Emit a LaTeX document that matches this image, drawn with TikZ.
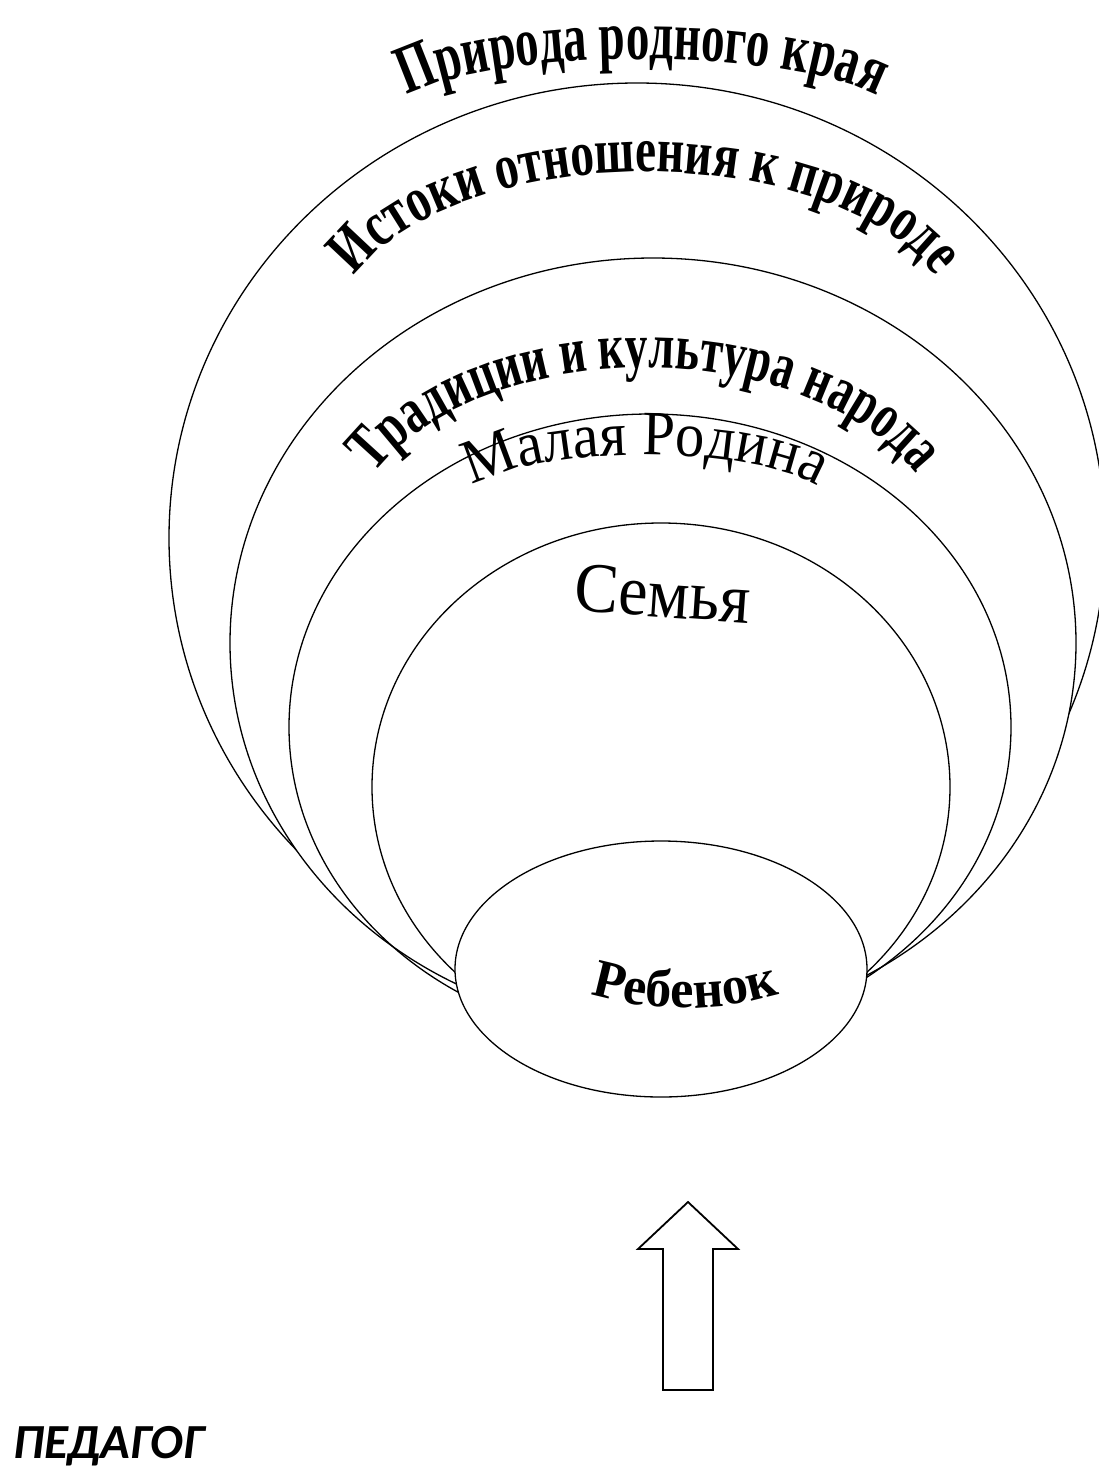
\documentclass[tikz,border=0pt]{standalone}
\usepackage{fontspec}
\usetikzlibrary{decorations.text}
\newfontfamily\fPriroda[FakeStretch=0.68]{Liberation Serif}
\newfontfamily\fIstoki[FakeStretch=0.74]{Liberation Serif}
\newfontfamily\fTrad[FakeStretch=0.70]{Liberation Serif}
\newfontfamily\fMalaya[FakeStretch=0.93]{Liberation Serif}
\newfontfamily\fSemya[FakeStretch=0.93]{Liberation Serif}
\newfontfamily\fReb[FakeStretch=0.97]{Liberation Serif}
\newfontfamily\fPed{Carlito}
\tikzset{
  ring/.style={line width=1.3pt, draw=black},
  blockarrow/.style={line width=1.8pt, draw=black, line join=miter},
}
\begin{document}
\begin{tikzpicture}[x=1pt, y=-1pt]
\useasboundingbox (0,0) rectangle (1099,1468);
\fill[white] (0,0) rectangle (1099,1468);

% outer ring (only outside ring 2)
\begin{scope}[even odd rule]
  \clip (0,0) rectangle (1099,1468) (653,643) ellipse [x radius=423, y radius=385];
  \draw[ring] (637,538) ellipse [x radius=468, y radius=455];
\end{scope}
% ring 2
\draw[ring] (653,643) ellipse [x radius=423, y radius=385];
% ring 3
\draw[ring] (650,727) ellipse [x radius=361, y radius=313];
% ring 4
\draw[ring] (661,787) ellipse [x radius=289, y radius=264];

% child ellipse
\draw[ring, fill=white] (661,969) ellipse [x radius=206, y radius=128];
\coordinate (child) at (661,969);

% arched texts
\path[decorate, decoration={text along path, text align=center,
  text={|\fPriroda\bfseries\fontsize{69}{69}\selectfont|Природа родного края}}]
  (642,119) ++(150:255 and 60) arc [start angle=150, end angle=390, x radius=255, y radius=60];

\path[decorate, decoration={text along path, text align=center,
  text={|\fIstoki\bfseries\fontsize{64}{64}\selectfont|Истоки отношения к природе}}]
  (645,332) ++(160:310 and 160) arc [start angle=160, end angle=380, x radius=310, y radius=160];

\path[decorate, decoration={text along path, text align=center,
  text={|\fTrad\bfseries\fontsize{65}{65}\selectfont|Традиции и культура народа}}]
  (645,553) ++(160:300 and 185) arc [start angle=160, end angle=380, x radius=300, y radius=185];

\path[decorate, decoration={text along path, text align=center,
  text={|\fMalaya\fontsize{63}{63}\selectfont|Малая Родина}}]
  (645,505) ++(150:185 and 50) arc [start angle=150, end angle=390, x radius=185, y radius=50];

\node[anchor=base, rotate=-4, inner sep=0pt, font=\fSemya\fontsize{71}{71}\selectfont] (semya) at (661,617) {Семья};

\path[decorate, decoration={text along path, text align=center,
  text={|\fReb\bfseries\fontsize{54}{54}\selectfont|Ребенок}}]
  (685,674) ++(120:334) arc [start angle=120, end angle=60, radius=334];

% block arrow
\draw[blockarrow] (688,1202) -- (738,1249) -- (713,1249) -- (713,1390) -- (663,1390) -- (663,1249) -- (638,1249) -- cycle;

% pedagog
\node[anchor=base west, inner sep=0pt, font=\fPed\bfseries\itshape\fontsize{49}{49}\selectfont] (ped) at (13,1458) {ПЕДАГОГ};
\end{tikzpicture}
\end{document}
